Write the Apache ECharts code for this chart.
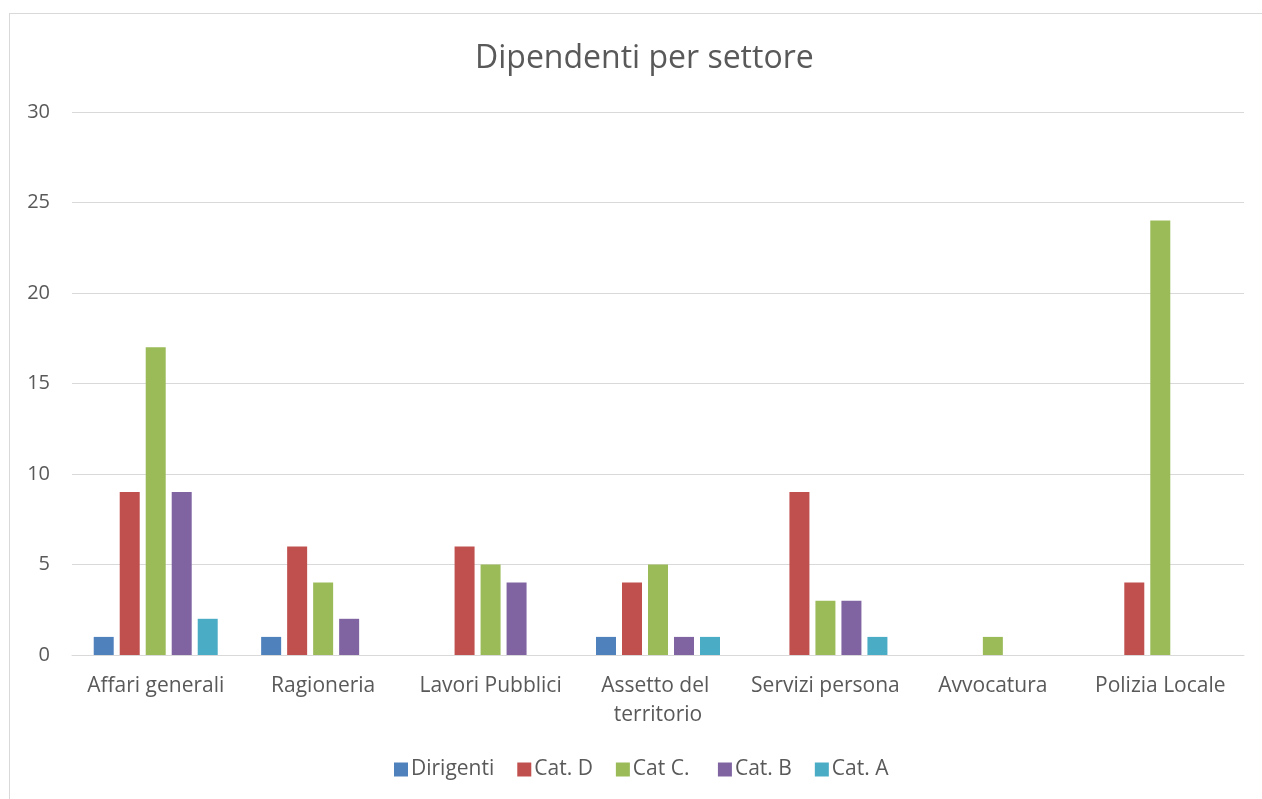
<!DOCTYPE html>
<html>
<head>
<meta charset="utf-8">
<script src="https://cdn.jsdelivr.net/npm/echarts@6/dist/echarts.min.js"></script>
<style>
  html, body { margin: 0; padding: 0; background: #fff; }
  #frame { position: absolute; left: 9px; top: 13px; width: 1300px; height: 820px; border: 1px solid #d9d9d9; }
  #chart { position: absolute; left: 0; top: 0; width: 1262px; height: 799px; }
</style>
</head>
<body>
<div id="frame"></div>
<div id="chart"></div>
<script>
// dati
var categorie = ['Affari generali', 'Ragioneria', 'Lavori Pubblici', 'Assetto del territorio', 'Servizi persona', 'Avvocatura', 'Polizia Locale'];
var dirigenti = [1, 1, 0, 1, 0, 0, 0];
var catD = [9, 6, 6, 4, 9, 0, 4];
var catC = [17, 4, 5, 5, 3, 1, 24];
var catB = [9, 2, 4, 1, 3, 0, 0];
var catA = [2, 0, 0, 1, 1, 0, 0];

var font = '"Open Sans", sans-serif';
var myChart = echarts.init(document.getElementById('chart'));

function serie(nome, dati, colore) {
  return {
    name: nome,
    type: 'bar',
    data: dati,
    barWidth: 20,
    barGap: '30%',
    itemStyle: { color: colore },
    emphasis: { disabled: true }
  };
}

var option = {
  animation: false,
  color: ['#4F81BD', '#C0504D', '#9BBB59', '#8064A2', '#4BACC6'],
  title: {
    text: 'Dipendenti per settore',
    left: 470,
    top: 38,
    textStyle: { fontFamily: font, fontSize: 32, fontWeight: 'normal', color: '#595959' }
  },
  legend: {
    bottom: 14,
    left: 389,
    itemWidth: 14,
    itemHeight: 14,
    itemGap: 23,
    icon: 'rect',
    textStyle: { fontFamily: font, fontSize: 21, color: '#595959', padding: [0, 0, 0, -2] },
    data: ['Dirigenti', 'Cat. D', 'Cat C. ', 'Cat. B', 'Cat. A']
  },
  grid: { left: 72, right: 18, top: 112, bottom: 144, containLabel: false },
  xAxis: {
    type: 'category',
    data: categorie,
    axisTick: { show: false },
    axisLine: { lineStyle: { color: '#d9d9d9', width: 1 } },
    axisLabel: {
      interval: 0,
      margin: 17,
      width: 150,
      overflow: 'break',
      lineHeight: 29,
      fontFamily: font,
      fontSize: 21,
      color: '#595959'
    }
  },
  yAxis: {
    type: 'value',
    min: 0,
    max: 30,
    interval: 5,
    axisLine: { show: false },
    axisTick: { show: false },
    splitLine: { lineStyle: { color: '#d9d9d9', width: 1 } },
    axisLabel: { fontFamily: font, fontSize: 20, color: '#595959', margin: 22 }
  },
  series: [
    serie('Dirigenti', dirigenti, '#4F81BD'),
    serie('Cat. D', catD, '#C0504D'),
    serie('Cat C. ', catC, '#9BBB59'),
    serie('Cat. B', catB, '#8064A2'),
    serie('Cat. A', catA, '#4BACC6')
  ]
};

myChart.setOption(option);
</script>
</body>
</html>
